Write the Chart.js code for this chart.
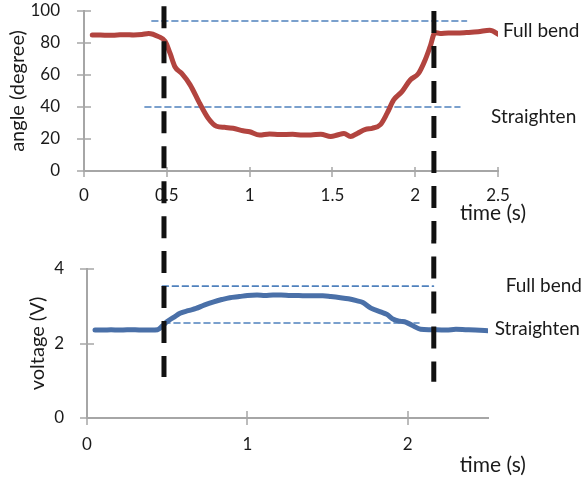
<!DOCTYPE html>
<html><head><meta charset="utf-8">
<script src="https://cdn.jsdelivr.net/npm/chart.js@4.4.1/dist/chart.umd.min.js"></script>
<style>
html,body{margin:0;padding:0;background:#fff;}
#wrap{position:relative;width:586px;height:480px;overflow:hidden;}
canvas{position:absolute;left:0;}
</style></head><body>
<div id="wrap">
<canvas id="topChart" width="586" height="240" style="top:0"></canvas>
<canvas id="botChart" width="586" height="240" style="top:240px"></canvas>
</div>
<script>
// ---- data ----
const angleTime = [0.05,0.10,0.15,0.20,0.25,0.30,0.35,0.39,0.45,0.49,0.52,0.55,0.59,0.64,0.70,0.75,0.80,0.85,0.90,0.96,1.00,1.06,1.12,1.18,1.26,1.32,1.37,1.43,1.49,1.53,1.57,1.61,1.65,1.70,1.74,1.79,1.83,1.87,1.92,1.97,2.02,2.06,2.09,2.12,2.15,2.20,2.25,2.31,2.38,2.45,2.51];
const angleDeg  = [85,85,84.8,85,85.2,85,85.3,86,84,81,73.5,65,61,54,42,33,28,27.3,26.7,25.2,24.5,22.5,23.2,22.8,22.9,22.5,22.5,23,21.5,22.5,23.5,21.5,23.5,26,26.7,29,36,44.4,49.6,56.9,61,69.4,77.7,86.5,86,86.3,86.2,86.5,87,88,85];
const voltTime = [0.05,0.10,0.15,0.20,0.25,0.30,0.35,0.40,0.44,0.47,0.50,0.54,0.58,0.63,0.68,0.73,0.79,0.84,0.89,0.95,1.00,1.06,1.11,1.16,1.21,1.27,1.32,1.37,1.42,1.47,1.52,1.58,1.63,1.68,1.72,1.77,1.83,1.87,1.91,1.95,1.99,2.03,2.08,2.13,2.18,2.24,2.30,2.36,2.42,2.51];
const voltVal  = [2.36,2.36,2.37,2.36,2.37,2.37,2.36,2.36,2.37,2.47,2.59,2.70,2.81,2.88,2.94,3.03,3.12,3.18,3.23,3.26,3.29,3.30,3.29,3.30,3.30,3.29,3.29,3.28,3.28,3.28,3.26,3.23,3.20,3.15,3.10,2.95,2.85,2.78,2.65,2.60,2.57,2.48,2.38,2.37,2.37,2.36,2.38,2.37,2.36,2.34];
const angleXTicks = [0,0.5,1,1.5,2,2.5];
const angleYTicks = [0,20,40,60,80,100];
const voltXTicks = [0,1,2];
const voltYTicks = [0,2,4];
const angleRefLevels = [93.75,40];
const angleRefStart  = [0.41,0.368];
const angleRefEnd    = [2.31,2.27];
const voltRefLevels = [3.54,2.55];
const voltRefStart  = [0.47,0.48];
const voltRefEnd    = [2.16,2.07];
const markerTimesTop = [0.483,2.113];
const markerTopFrom  = [103,100];
const markerTopTo    = [-45,-45];
const markerTimesBot = [0.48,2.162];
const markerBotFrom  = [4.78,4.78];
const markerBotTo    = [1.1,0.97];
const noteLabels = ['Full bend','Straighten'];

// ---- styling ----
const GRAY = '#a6a6a6';
const TXT = '#1a1a1a';
const FONT = 'Lato, "Open Sans", sans-serif';
Chart.defaults.font.family = FONT;
Chart.defaults.color = TXT;

const xy = (xs, ys) => xs.map((x,i)=>({x, y: ys[i]}));

function crossTicks(xIn, xOut, yIn, yOut){
  return {
    id:'crossTicks',
    beforeDatasetsDraw(chart){
      const {ctx, chartArea:a} = chart;
      const xs = chart.scales.x, ys = chart.scales.y;
      ctx.save(); ctx.strokeStyle = GRAY; ctx.lineWidth = 1.5;
      ctx.beginPath();
      xs.ticks.forEach(t=>{ const p = Math.round(xs.getPixelForValue(t.value)); ctx.moveTo(p, a.bottom - xIn); ctx.lineTo(p, a.bottom + xOut); });
      ys.ticks.forEach(t=>{ const p = Math.round(ys.getPixelForValue(t.value)); ctx.moveTo(a.left - yOut, p); ctx.lineTo(a.left + yIn, p); });
      ctx.stroke(); ctx.restore();
    }
  };
}
function notes(items){
  return {
    id:'notes',
    afterDraw(chart){
      const {ctx} = chart; const xs = chart.scales.x, ys = chart.scales.y;
      ctx.save(); ctx.fillStyle = TXT; ctx.textBaseline = 'alphabetic'; ctx.textAlign = 'left';
      items.forEach(it=>{ ctx.font = it.size + 'px ' + FONT; ctx.fillText(it.text, xs.getPixelForValue(it.x), ys.getPixelForValue(it.y)); });
      ctx.restore();
    }
  };
}
function markerSets(times, from, to, offsets){
  return times.map((t,i)=>({data:[{x:t,y:from[i]},{x:t,y:to[i]}], borderColor:'#111', borderWidth:5,
    borderDash:[22,13], borderDashOffset:offsets[i], borderCapStyle:'butt', pointRadius:0, clip:false, order:0}));
}
function refSets(levels, starts, ends){
  return levels.map((v,i)=>({data:[{x:starts[i],y:v},{x:ends[i],y:v}], borderColor:'#4f81bd', borderWidth:1.6,
    borderDash:[6,4], pointRadius:0, order:2}));
}
function scales(xTicks, yTicks, xMax, yMax, yTitle, yW, xH, yPad, xPad, titlePad){
  return {
    x:{type:'linear', min:0, max:xMax, afterBuildTicks:s=>{s.ticks = xTicks.map(v=>({value:v}));},
       afterFit:s=>{s.height = xH; s.paddingLeft = 0; s.paddingRight = 0;}, grid:{display:false}, border:{display:true,color:GRAY,width:2},
       ticks:{padding:xPad, font:{size:17}, color:TXT, maxRotation:0, callback:v=>String(v)}},
    y:{type:'linear', min:0, max:yMax, afterBuildTicks:s=>{s.ticks = yTicks.map(v=>({value:v}));},
       afterFit:s=>{s.width = yW; s.paddingTop = 0; s.paddingBottom = 0;}, grid:{display:false}, border:{display:true,color:GRAY,width:2},
       ticks:{padding:yPad, font:{size:17}, color:TXT, callback:v=>String(v)},
       title:{display:true, text:yTitle, font:{size:20}, color:TXT, padding:{top:titlePad,bottom:0}}}
  };
}
const common = {responsive:false, animation:false, events:[],
  plugins:{legend:{display:false}, tooltip:{enabled:false}},
  elements:{line:{borderCapStyle:'round', borderJoinStyle:'round'}}};

new Chart(document.getElementById('topChart'), {
  type:'line',
  data:{datasets:[
    ...markerSets(markerTimesTop, markerTopFrom, markerTopTo, [0,0]),
    {data:xy(angleTime, angleDeg), borderColor:'#b2443f', borderWidth:5, pointRadius:0, cubicInterpolationMode:'monotone', order:1},
    ...refSets(angleRefLevels, angleRefStart, angleRefEnd)
  ]},
  options:{...common, layout:{padding:{left:0,right:88,top:11,bottom:0}},
    scales:scales(angleXTicks, angleYTicks, 2.5, 100, 'angle (degree)', 84, 69, 16, 6, 6)},
  plugins:[crossTicks(4,6,7,7), notes([
    {text:noteLabels[0], x:2.53, y:83.9, size:19},
    {text:noteLabels[1], x:2.458, y:30, size:19},
    {text:'time (s)', x:2.27, y:-30.6, size:21}
  ])]
});

new Chart(document.getElementById('botChart'), {
  type:'line',
  data:{datasets:[
    ...markerSets(markerTimesBot, markerBotFrom, markerBotTo, [24,18.5]),
    {data:xy(voltTime, voltVal), borderColor:'#4a70a8', borderWidth:5, pointRadius:0, cubicInterpolationMode:'monotone', order:1},
    ...refSets(voltRefLevels, voltRefStart, voltRefEnd)
  ]},
  options:{...common, layout:{padding:{left:0,right:98,top:29,bottom:0}},
    scales:scales(voltXTicks, voltYTicks, 2.5, 4, 'voltage (V)', 87, 62, 15, 8, 26)},
  plugins:[crossTicks(7,7,7,7), notes([
    {text:noteLabels[0], x:2.61, y:3.38, size:19},
    {text:noteLabels[1], x:2.542, y:2.23, size:19},
    {text:'time (s)', x:2.324, y:-1.44, size:21}
  ])]
});
</script>
</body></html>
